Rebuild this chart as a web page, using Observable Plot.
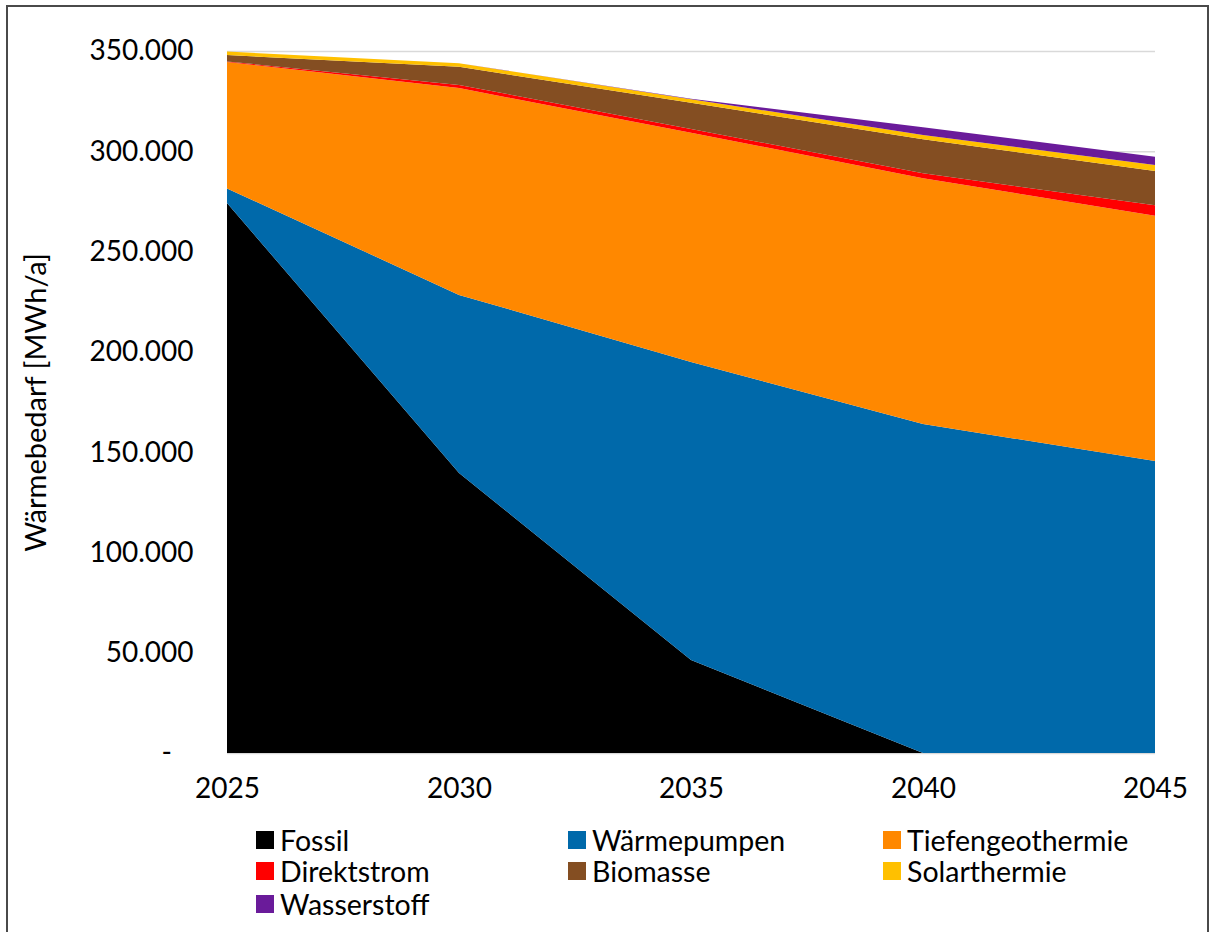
<!DOCTYPE html>
<html>
<head>
<meta charset="utf-8">
<script src="https://cdn.jsdelivr.net/npm/d3@7"></script>
<script src="https://cdn.jsdelivr.net/npm/@observablehq/plot@0.6"></script>
<style>
  html, body { margin: 0; padding: 0; background: #fff; }
  body { width: 1213px; height: 932px; position: relative; overflow: hidden; font-family: Lato, "Open Sans", sans-serif; }
  #chart { position: absolute; left: 0; top: 0; }
  #frame { position: absolute; left: 6px; top: 5px; width: 1199px; height: 1000px; border: 2px solid #4a4a4a; pointer-events: none; }
  .leg { position: absolute; display: flex; align-items: center; font-size: 28.5px; line-height: 28px; height: 28px; color: #000; white-space: nowrap; }
  .sw { width: 18px; height: 18px; margin-right: 6px; }
</style>
</head>
<body>
<div id="chart"></div>
<div id="legend"></div>
<div id="frame"></div>
<script>
const years = [2025, 2030, 2035, 2040, 2045];
const seriesNames = ["Fossil", "Wärmepumpen", "Tiefengeothermie", "Direktstrom", "Biomasse", "Solarthermie", "Wasserstoff"];
const colors = ["#000000", "#0069aa", "#ff8800", "#ff0000", "#844e22", "#ffc000", "#6a1b9a"];

const fossil           = [274200, 139600, 46400, 0, 0];
const waermepumpen     = [7300, 88800, 148600, 164000, 145600];
const tiefengeothermie = [63000, 103100, 114300, 122600, 122300];
const direktstrom      = [300, 1600, 1800, 2400, 5200];
const biomasse         = [3200, 9000, 13100, 17000, 17100];
const solarthermie     = [1700, 1800, 1800, 2100, 3000];
const wasserstoff      = [0, 0, 200, 3900, 4100];

const yTicks = [0, 50000, 100000, 150000, 200000, 250000, 300000, 350000];
const yLabel = "Wärmebedarf [MWh/a]";

const seriesValues = [fossil, waermepumpen, tiefengeothermie, direktstrom, biomasse, solarthermie, wasserstoff];
const data = years.flatMap((yr, i) => seriesNames.map((s, j) => ({year: yr, series: s, value: seriesValues[j][i]})));

const fmt = d => d === 0 ? "-\u00a0\u00a0\u00a0" : d3.format(",")(d).replace(/,/g, ".");

const chart = Plot.plot({
  width: 1213,
  height: 810,
  marginLeft: 227,
  marginRight: 58,
  marginTop: 51,
  marginBottom: 57,
  x: {domain: [2025, 2045], label: null},
  y: {domain: [0, 350000], label: null},
  color: {domain: seriesNames, range: colors},
  style: {fontFamily: "Lato, 'Open Sans', sans-serif", fontSize: "28px", color: "#000", background: "transparent"},
  marks: [
    Plot.ruleY(yTicks, {stroke: "#d9d9d9", strokeWidth: 1.5}),
    Plot.areaY(data, {x: "year", y: "value", z: "series", fill: "series"}),
    Plot.axisX(years, {tickSize: 0, tickPadding: 25, tickFormat: d => String(d), fontSize: 28, label: null}),
    Plot.axisY(yTicks, {tickSize: 0, tickPadding: 34, tickFormat: fmt, fontSize: 28, label: null}),
    Plot.text([yLabel], {frameAnchor: "left", rotate: -90, dx: -191, textAnchor: "middle", fontSize: 29, fill: "#000"})
  ]
});
document.getElementById("chart").appendChild(chart);

const legend = document.getElementById("legend");
const colX = [256, 568, 883];
const rowY = [826, 857, 890];
seriesNames.forEach((s, i) => {
  const el = document.createElement("div");
  el.className = "leg";
  el.style.left = colX[i % 3] + "px";
  el.style.top = rowY[Math.floor(i / 3)] + "px";
  el.innerHTML = `<span class="sw" style="background:${colors[i]}"></span><span>${s}</span>`;
  legend.appendChild(el);
});
</script>
</body>
</html>
